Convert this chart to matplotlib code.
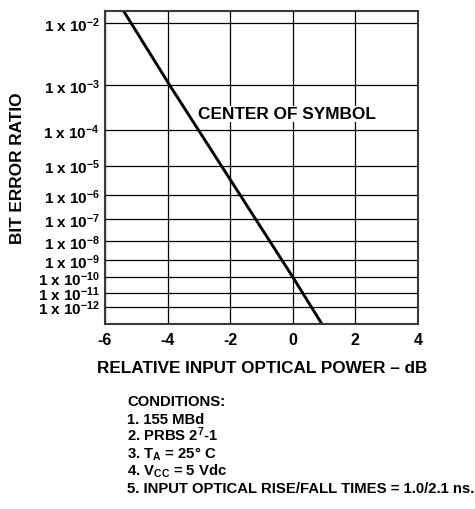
import numpy as np
import matplotlib
matplotlib.use("Agg")
import matplotlib.pyplot as plt

plt.rcParams['font.family'] = ['Liberation Sans', 'DejaVu Sans']
plt.rcParams['font.weight'] = 'bold'
plt.rcParams['mathtext.fontset'] = 'custom'
plt.rcParams['mathtext.rm'] = 'Liberation Sans:bold'
plt.rcParams['mathtext.it'] = 'Liberation Sans:bold'
plt.rcParams['mathtext.bf'] = 'Liberation Sans:bold'
plt.rcParams['mathtext.default'] = 'rm'

# ---- data ----
power_db = [-5.4, -3.93, 0.0, 0.93]
ber = [1.43e-2, 1e-3, 1e-10, 4.5e-14]
x_ticks = [-6, -4, -2, 0, 2, 4]
x_tick_labels = ["-6", "-4", "-2", "0", "2", "4"]
y_exponents = [2, 3, 4, 5, 6, 7, 8, 9, 10, 11, 12]
y_ticks = [10.0 ** (-e) for e in y_exponents]
y_tick_labels = [r"1 x 10$^{-%d}$" % e for e in y_exponents]
curve_label = "CENTER OF SYMBOL"
conditions = [
    "CONDITIONS:",
    "1. 155 MBd",
    r"2. PRBS 2$^{7}$-1",
    r"3. T$_{A}$ = 25° C",
    r"4. V$_{CC}$ = 5 Vdc",
    "5. INPUT OPTICAL RISE/FALL TIMES = 1.0/2.1 ns.",
]

def fwd(y):
    y = np.clip(np.asarray(y, dtype=float), 1e-300, 0.999)
    return -np.log10(-np.log10(y) + 0.2)

def inv(t):
    return 10.0 ** (-(10.0 ** (-np.asarray(t, dtype=float)) - 0.2))

fig = plt.figure(figsize=(4.75, 5.10), dpi=100)
ax = fig.add_axes([105/475, 1-325/510, (418-105)/475, (325-12.3)/510])
ax.set_yscale('function', functions=(fwd, inv))

ax.plot(power_db, ber, color='black', lw=2.1, solid_capstyle='butt')

ax.set_xlim(-6, 4)
ax.set_ylim(4.5e-14, 1.43e-2)
ax.set_xticks(x_ticks)
ax.set_xticklabels(x_tick_labels)
ax.set_yticks(y_ticks)
ax.set_yticklabels(y_tick_labels)
ax.yaxis.set_minor_locator(matplotlib.ticker.NullLocator())
ax.tick_params(axis='both', length=0)
ax.tick_params(axis='x', pad=6, labelsize=11.5)
ax.tick_params(axis='y', pad=3.5, labelsize=11.0)
ax.grid(True, color='black', lw=0.9)
for s in ax.spines.values():
    s.set_linewidth(1.5)
    s.set_color('#3a3a3a')

ax.text(-3.02, 2.5e-4, curve_label, fontsize=12.4, fontweight='bold',
        ha='left', va='center',
        bbox=dict(facecolor='white', edgecolor='none', pad=0.3))

ax.set_ylabel("BIT ERROR RATIO", fontsize=12.4, fontweight='bold')
ax.yaxis.set_label_coords(-0.255, 0.5)
fig.text(262/475, 1-369/510, "RELATIVE INPUT OPTICAL POWER – dB",
         fontsize=12.3, fontweight='bold', ha='center', va='center')

y0 = 406.5
for i, line in enumerate(conditions):
    fig.text(127/475, 1-(y0 + i*17.3)/510, line, fontsize=10.7, fontweight='bold',
             ha='left', va='baseline')

fig.savefig("out.png", dpi=100)
